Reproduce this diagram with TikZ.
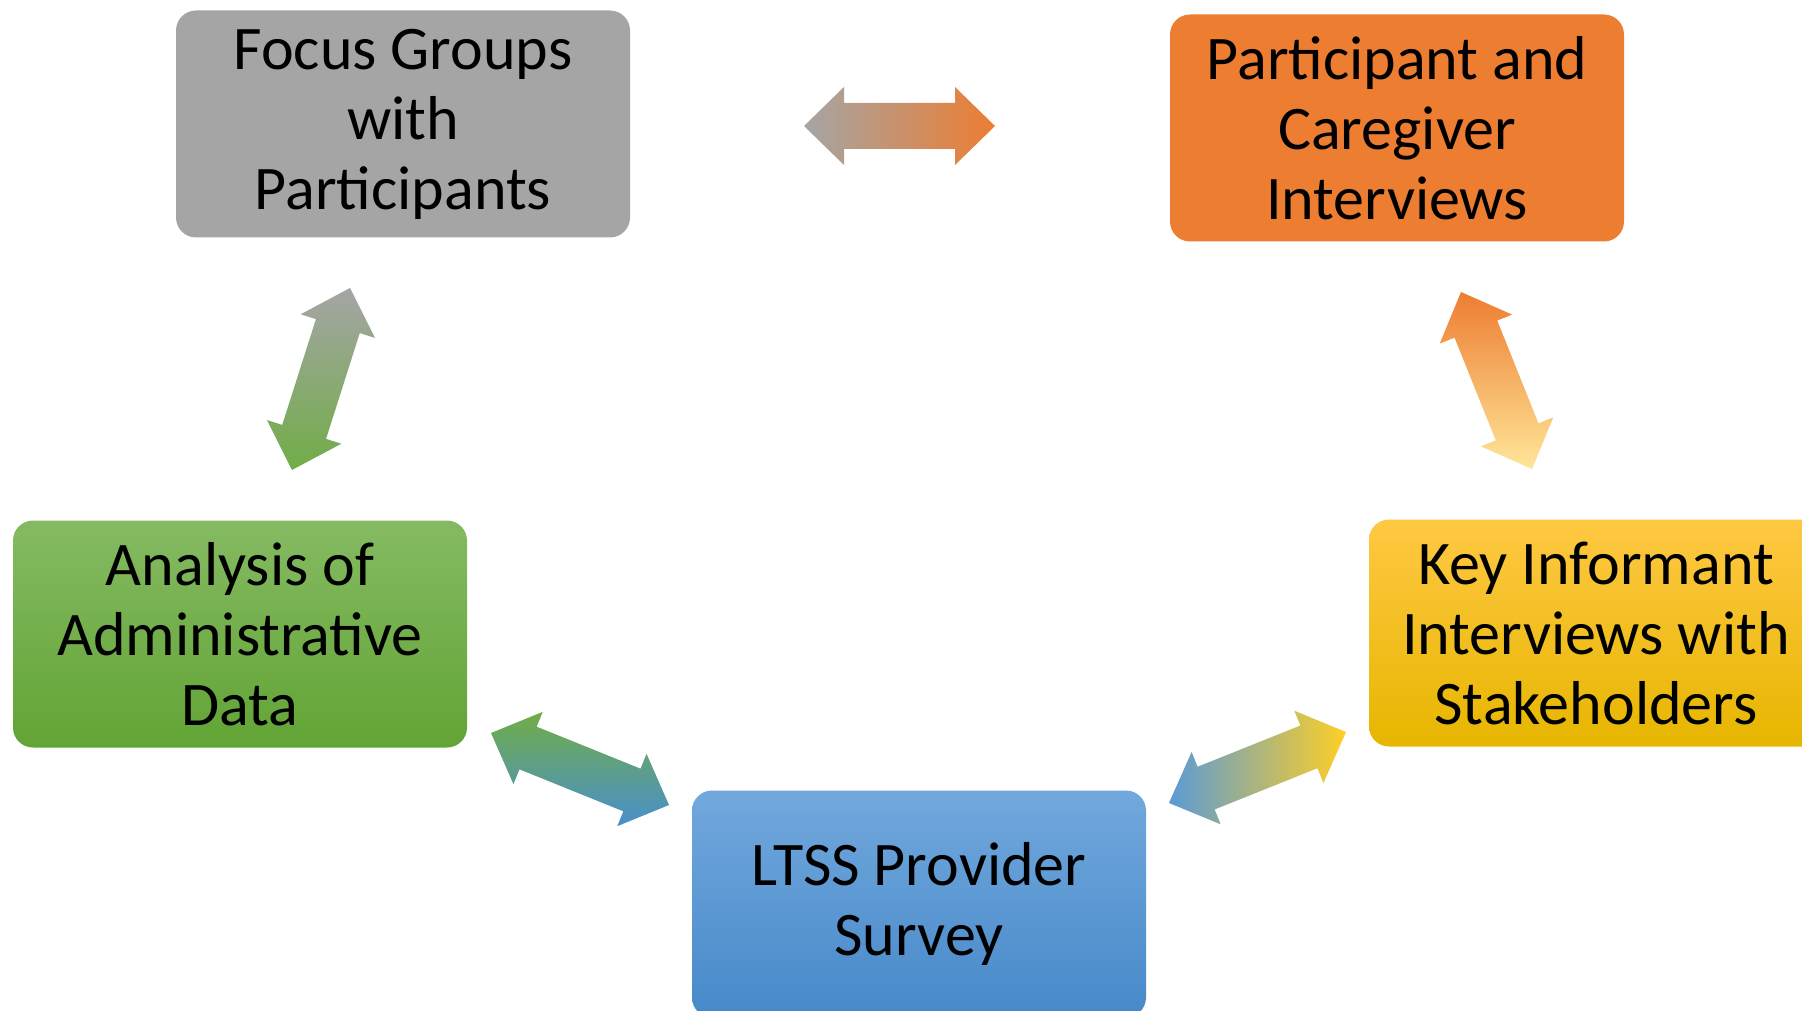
\documentclass[tikz,border=0pt]{standalone}
\usepackage{fontspec}
\setmainfont{Carlito}
\usetikzlibrary{calc}
\definecolor{cgray}{HTML}{A5A5A5}
\definecolor{corange}{HTML}{ED7D31}
\definecolor{cgreenT}{HTML}{85BA62}
\definecolor{cgreenB}{HTML}{62A435}
\definecolor{cyellowT}{HTML}{FFC843}
\definecolor{cyellowB}{HTML}{E6B600}
\definecolor{cblueT}{HTML}{72A8DD}
\definecolor{cblueB}{HTML}{4689C9}
\definecolor{agreen}{HTML}{70AD47}
\definecolor{ablue}{HTML}{4A8FCD}
\definecolor{ablue2}{HTML}{5B9BD5}
\definecolor{alyellow}{HTML}{FFE699}
\definecolor{ayellow}{HTML}{FFCF26}
\newcommand\twoarrow[3]{%
  \coordinate (#1-p) at ($(#1)!40pt!(#2)$);
  \coordinate (#2-p) at ($(#2)!40pt!(#1)$);
  \path[#3] (#1)
    -- ($(#1-p)!39pt!90:(#2)$) -- ($(#1-p)!23pt!90:(#2)$)
    -- ($(#2-p)!23pt!-90:(#1)$) -- ($(#2-p)!39pt!-90:(#1)$)
    -- (#2)
    -- ($(#2-p)!39pt!90:(#1)$) -- ($(#2-p)!23pt!90:(#1)$)
    -- ($(#1-p)!23pt!-90:(#2)$) -- ($(#1-p)!39pt!-90:(#2)$)
    -- cycle;
}
\begin{document}
\begin{tikzpicture}[x=1pt,y=-1pt,
  box/.style={rounded corners=20pt, minimum width=454pt, minimum height=227pt,
    inner sep=0pt, align=center, font=\fontsize{62}{70}\selectfont, text=black}]
\useasboundingbox (0,0) rectangle (1802,1011);
\fill[white] (0,0) rectangle (1802,1011);
% boxes
\node[box, fill=cgray] (focus) at (403,124) {Focus Groups\\with\\Participants};
\node[box, fill=corange] (part) at (1397,128) {Participant and\\Caregiver\\Interviews};
\node[box, top color=cgreenT, bottom color=cgreenB] (admin) at (240,634) {Analysis of\\Administrative\\Data};
\node[box, top color=cyellowT, bottom color=cyellowB] (key) at (1596,633) {Key Informant\\Interviews with\\Stakeholders};
\node[box, top color=cblueT, bottom color=cblueB] (ltss) at (919,904) {LTSS Provider\\Survey};
% arrow end points
\coordinate (t1) at (804,126);   \coordinate (t2) at (995,126);
\coordinate (l1) at (350,288);   \coordinate (l2) at (292,470);
\coordinate (r1) at (1461,292);  \coordinate (r2) at (1532,469);
\coordinate (bl1) at (491,733);  \coordinate (bl2) at (669,805);
\coordinate (br1) at (1169,803); \coordinate (br2) at (1346,732);
% arrows
\twoarrow{t1}{t2}{left color=cgray, right color=corange}
\twoarrow{l1}{l2}{top color=cgray, bottom color=agreen}
\twoarrow{r1}{r2}{top color=corange, bottom color=alyellow}
\twoarrow{bl1}{bl2}{top color=agreen, bottom color=ablue}
\twoarrow{br1}{br2}{left color=ablue2, right color=ayellow}
\end{tikzpicture}
\end{document}
